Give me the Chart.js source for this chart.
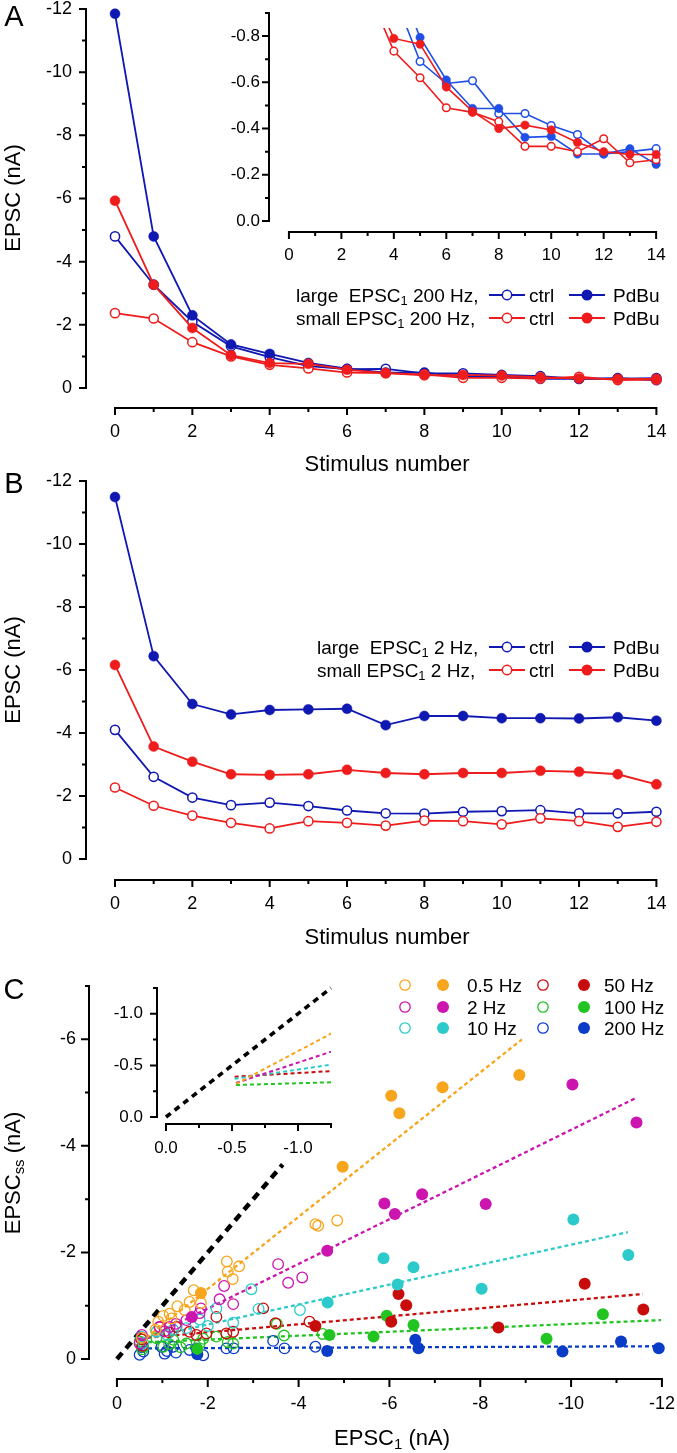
<!DOCTYPE html>
<html>
<head>
<meta charset="utf-8">
<script src="https://cdn.jsdelivr.net/npm/chart.js@4.4.1/dist/chart.umd.min.js"></script>
<style>
  body { margin: 0; background: #fff; font-family: "Liberation Sans", Arial, sans-serif; }
  #fig { position: relative; width: 677px; height: 1453px; overflow: hidden; background: #fff; }
  #fig canvas { position: absolute; left: 0; top: 0; }
  #fig svg { position: absolute; left: 0; top: 0; }
  .txt { position: absolute; white-space: pre; color: #000; line-height: 1; }
  .txt sub { font-size: 68%; vertical-align: -0.28em; line-height: 0; }
</style>
</head>
<body>
<div id="fig">
  <canvas id="chartA" width="677" height="1453"></canvas>
  <canvas id="chartAinset" width="677" height="1453"></canvas>
  <canvas id="chartB" width="677" height="1453"></canvas>
  <canvas id="chartC" width="677" height="1453"></canvas>
  <canvas id="chartCinset" width="677" height="1453"></canvas>
</div>
<script>
const stimulus = [0, 1, 2, 3, 4, 5, 6, 7, 8, 9, 10, 11, 12, 13, 14];

// panel A: 200 Hz trains (nA)
const aLargeCtrl = [-4.80, -3.27, -2.10, -1.32, -0.98, -0.69, -0.595, -0.607, -0.465, -0.465, -0.413, -0.374, -0.29, -0.30, -0.313];
const aLargePdbu = [-11.85, -4.80, -2.30, -1.38, -1.08, -0.794, -0.61, -0.487, -0.487, -0.362, -0.366, -0.29, -0.29, -0.313, -0.245];
const aSmallCtrl = [-2.37, -2.20, -1.45, -1.00, -0.735, -0.62, -0.49, -0.47, -0.43, -0.323, -0.323, -0.30, -0.356, -0.252, -0.265];
const aSmallPdbu = [-5.93, -3.27, -1.90, -1.04, -0.79, -0.765, -0.58, -0.474, -0.40, -0.415, -0.394, -0.34, -0.30, -0.288, -0.288];

// panel B: 2 Hz trains (nA)
const bLargeCtrl = [-4.10, -2.61, -1.95, -1.71, -1.79, -1.68, -1.54, -1.45, -1.44, -1.50, -1.52, -1.55, -1.45, -1.45, -1.50];
const bLargePdbu = [-11.49, -6.44, -4.92, -4.59, -4.73, -4.75, -4.77, -4.25, -4.54, -4.54, -4.47, -4.47, -4.46, -4.50, -4.39];
const bSmallCtrl = [-2.27, -1.69, -1.38, -1.15, -0.97, -1.20, -1.15, -1.06, -1.22, -1.20, -1.10, -1.29, -1.20, -1.02, -1.18];
const bSmallPdbu = [-6.16, -3.57, -3.09, -2.69, -2.67, -2.69, -2.83, -2.73, -2.69, -2.73, -2.73, -2.80, -2.77, -2.69, -2.37];

// panel C: [EPSC1, EPSCss] pairs (nA), open = ctrl, filled = PdBu
const c05Open = [[-4.37, -2.53], [-4.43, -2.50], [-4.85, -2.60], [-2.42, -1.83], [-2.69, -1.74], [-2.44, -1.64], [-2.55, -1.50], [-1.69, -1.29], [-1.60, -1.07], [-1.49, -0.92], [-1.33, -0.99], [-1.16, -0.85], [-1.20, -0.76], [-1.02, -0.81], [-0.91, -0.70], [-0.85, -0.55], [-1.85, -1.05], [-0.55, -0.40]];
const c05Filled = [[-1.85, -1.24], [-4.97, -3.61], [-6.04, -4.94], [-6.22, -4.61], [-7.17, -5.10], [-8.86, -5.33]];
const c2Open = [[-4.08, -1.53], [-3.55, -1.78], [-3.77, -1.43], [-2.36, -1.37], [-2.26, -1.12], [-2.56, -1.03], [-1.82, -0.86], [-1.85, -0.95], [-1.53, -0.73], [-1.30, -0.66], [-1.16, -0.60], [-1.05, -0.52], [-0.94, -0.60], [-0.55, -0.45], [-0.50, -0.29]];
const c2Filled = [[-1.65, -0.79], [-4.63, -2.03], [-5.89, -2.92], [-6.12, -2.72], [-6.72, -3.09], [-8.12, -2.91], [-10.03, -5.15], [-11.44, -4.44]];
const c10Open = [[-4.03, -0.92], [-2.96, -1.31], [-3.12, -0.94], [-2.56, -0.68], [-2.19, -0.95], [-2.00, -0.62], [-1.82, -0.74], [-1.53, -0.58], [-1.24, -0.55], [-1.10, -0.45], [-0.87, -0.51], [-0.58, -0.30], [-0.54, -0.42]];
const c10Filled = [[-4.64, -1.06], [-5.87, -1.89], [-6.18, -1.40], [-6.53, -1.72], [-8.03, -1.32], [-10.05, -2.62], [-11.26, -1.95]];
const c50Open = [[-3.22, -0.95], [-3.49, -0.67], [-4.24, -0.70], [-2.19, -0.79], [-2.56, -0.51], [-2.41, -0.48], [-1.97, -0.48], [-1.75, -0.45], [-1.60, -0.51], [-1.31, -0.60], [-1.15, -0.50], [-0.94, -0.60], [-0.56, -0.25], [-0.54, -0.37]];
const c50Filled = [[-4.37, -0.62], [-6.04, -0.70], [-6.20, -1.22], [-6.37, -1.01], [-8.40, -0.59], [-10.30, -1.41], [-11.59, -0.93]];
const c100Open = [[-3.52, -0.66], [-3.68, -0.44], [-4.53, -0.47], [-2.44, -0.32], [-2.56, -0.29], [-2.19, -0.42], [-1.90, -0.38], [-1.82, -0.29], [-1.53, -0.29], [-1.40, -0.22], [-1.24, -0.36], [-1.15, -0.28], [-1.02, -0.23], [-0.87, -0.39], [-0.58, -0.23], [-0.56, -0.18], [-0.50, -0.33]];
const c100Filled = [[-1.77, -0.19], [-4.68, -0.45], [-5.65, -0.42], [-5.94, -0.81], [-6.53, -0.64], [-9.46, -0.38], [-10.70, -0.84]];
const c200Open = [[-3.44, -0.34], [-3.69, -0.20], [-4.37, -0.23], [-2.41, -0.20], [-2.57, -0.20], [-1.90, -0.07], [-1.75, -0.20], [-1.60, -0.17], [-1.30, -0.12], [-1.24, -0.23], [-1.10, -0.15], [-1.05, -0.10], [-0.98, -0.23], [-0.58, -0.14], [-0.55, -0.22], [-0.50, -0.08]];
const c200Filled = [[-1.77, -0.09], [-4.63, -0.15], [-6.57, -0.36], [-6.64, -0.20], [-9.81, -0.14], [-11.10, -0.33], [-11.93, -0.20]];

// fitted lines (end points) and the unity line
const fit05 = [[-0.53, -0.32], [-8.92, -6.00]];
const fit2 = [[-0.53, -0.33], [-11.43, -4.90]];
const fit10 = [[-0.52, -0.37], [-11.25, -2.38]];
const fit50 = [[-0.52, -0.39], [-11.58, -1.22]];
const fit100 = [[-0.53, -0.31], [-11.98, -0.73]];
const fit200 = [[-0.53, -0.20], [-12.05, -0.24]];
const unityMain = [[0, 0], [-3.65, -3.65]];
const unityInset = [[0, 0], [-1.25, -1.25]];

const freqLabels = ['0.5 Hz', '2 Hz', '10 Hz', '50 Hz', '100 Hz', '200 Hz'];
const legendA = ['large  EPSC<sub>1</sub> 200 Hz,', 'small EPSC<sub>1</sub> 200 Hz,'];
const legendB = ['large  EPSC<sub>1</sub> 2 Hz,', 'small EPSC<sub>1</sub> 2 Hz,'];

const BLUE = '#1018b2';
const BLUE_INSET = '#1f4fe6';
const RED = '#ee1c1c';
const freqColors = ['#f7a51c', '#cc14ae', '#2ccaca', '#c80c0c', '#22c422', '#0a3cc8'];

Chart.defaults.font.family = '"Liberation Sans", Arial, sans-serif';
Chart.defaults.color = '#000';
Chart.defaults.animation = false;

const fig = document.getElementById('fig');

// chart area placed at fixed page pixels (y scale 60 px wide, x scale 60 px high)
function frame(L, T, R, B) {
    return { autoPadding: false, padding: { left: L - 60, top: T, right: 677 - R, bottom: 1453 - B - 60 } };
}

function scale(min, max, step, isY, pad, size, dec) {
    return {
        type: 'linear',
        min: min,
        max: max,
        grid: { display: false, drawTicks: false },
        border: { display: false },
        ticks: {
            stepSize: step,
            padding: pad,
            autoSkip: false,
            includeBounds: false,
            maxRotation: 0,
            font: { size: size },
            color: '#000',
            callback: v => Number(v).toFixed(dec)
        },
        afterFit: s => {
            if (isY) s.width = 60; else s.height = 60;
            s.paddingTop = s.paddingBottom = s.paddingLeft = s.paddingRight = 0;
        }
    };
}

// axis lines that stop at the data range, plus long/short tick marks
function axisDeco(d) {
    return {
        id: 'axisDeco',
        afterDraw(chart) {
            const { ctx, chartArea } = chart;
            const xs = chart.scales.x, ys = chart.scales.y;
            const isMajor = (v, m) => Math.abs(v / m - Math.round(v / m)) < 1e-6;
            ctx.save();
            ctx.strokeStyle = '#000';
            ctx.lineWidth = 2;
            ctx.beginPath();
            // y axis
            const left = chartArea.left;
            ctx.moveTo(left, ys.getPixelForValue(d.y[0]) - 1);
            ctx.lineTo(left, ys.getPixelForValue(d.y[1]) + 1);
            let n = Math.round(Math.abs(d.y[1] - d.y[0]) / d.y[3]);
            let dir = d.y[1] > d.y[0] ? 1 : -1;
            for (let i = 0; i <= n; i++) {
                const v = d.y[0] + dir * i * d.y[3];
                const p = ys.getPixelForValue(v);
                ctx.moveTo(left, p);
                ctx.lineTo(left - (isMajor(v, d.y[2]) ? d.len[0] : d.len[1]), p);
            }
            // x axis, detached below the plot
            const base = chartArea.bottom + d.gap;
            ctx.moveTo(xs.getPixelForValue(d.x[0]) - 1, base);
            ctx.lineTo(xs.getPixelForValue(d.x[1]) + 1, base);
            n = Math.round(Math.abs(d.x[1] - d.x[0]) / d.x[3]);
            dir = d.x[1] > d.x[0] ? 1 : -1;
            for (let i = 0; i <= n; i++) {
                const v = d.x[0] + dir * i * d.x[3];
                const p = xs.getPixelForValue(v);
                ctx.moveTo(p, base);
                ctx.lineTo(p, base + (isMajor(v, d.x[2]) ? d.len[0] : d.len[1]));
            }
            ctx.stroke();
            ctx.restore();
        }
    };
}

function trainSeries(values, color, open, r, lw, clip) {
    return {
        data: stimulus.map((s, i) => ({ x: s, y: values[i] })),
        showLine: true,
        borderColor: color,
        borderWidth: lw,
        pointRadius: open ? r - 0.4 : r,
        pointBorderWidth: open ? 1.5 : 0.5,
        pointBorderColor: color,
        pointBackgroundColor: open ? '#fff' : color,
        clip: clip
    };
}

function pairs(arr) {
    return arr.map(p => ({ x: p[0], y: p[1] }));
}

function baseOptions(fr, xs, ys) {
    return {
        responsive: false,
        maintainAspectRatio: false,
        devicePixelRatio: 1,
        events: [],
        layout: fr,
        scales: { x: xs, y: ys },
        plugins: { legend: { display: false }, tooltip: { enabled: false } }
    };
}

function xScale(min, max, step, reverse, pad, size, dec) {
    const s = scale(min, max, step, false, pad, size, dec);
    s.reverse = reverse;
    return s;
}
function yScale(min, max, step, pad, size, dec) {
    const s = scale(min, max, step, true, pad, size, dec);
    s.reverse = true;
    return s;
}

// ---- panel A ----
new Chart(document.getElementById('chartA'), {
    type: 'scatter',
    data: {
        datasets: [
            trainSeries(aSmallPdbu, RED, false, 5, 1.8, false),
            trainSeries(aSmallCtrl, RED, true, 5, 1.8, false),
            trainSeries(aLargePdbu, BLUE, false, 5, 1.8, false),
            trainSeries(aLargeCtrl, BLUE, true, 5, 1.8, false)
        ]
    },
    options: baseOptions(frame(86, 9, 668, 388),
        xScale(-0.75, 14.3, 2, false, 33, 18, 0),
        yScale(-12, 0, 2, 14, 18, 0)),
    plugins: [axisDeco({ y: [-12, 0, 2, 1], x: [0, 14, 2, 1], gap: 20, len: [7, 4] })]
});

// ---- panel A inset ----
const insetClip = { left: 20, top: -15, right: 20, bottom: 20 };
new Chart(document.getElementById('chartAinset'), {
    type: 'scatter',
    data: {
        datasets: [
            trainSeries(aSmallPdbu, RED, false, 4.2, 1.6, insetClip),
            trainSeries(aSmallCtrl, RED, true, 4.2, 1.6, insetClip),
            trainSeries(aLargePdbu, BLUE_INSET, false, 4.2, 1.6, insetClip),
            trainSeries(aLargeCtrl, BLUE_INSET, true, 4.2, 1.6, insetClip)
        ]
    },
    options: baseOptions(frame(269, 13, 664, 221),
        xScale(-0.76, 14.3, 2, false, 24, 17, 0),
        yScale(-0.9, 0, 0.2, 9, 17, 1)),
    plugins: [axisDeco({ y: [-0.9, 0, 0.2, 0.1], x: [0, 14, 2, 1], gap: 11, len: [7, 4] })]
});

// ---- panel B ----
new Chart(document.getElementById('chartB'), {
    type: 'scatter',
    data: {
        datasets: [
            trainSeries(bSmallPdbu, RED, false, 5, 1.8, false),
            trainSeries(bSmallCtrl, RED, true, 5, 1.8, false),
            trainSeries(bLargePdbu, BLUE, false, 5, 1.8, false),
            trainSeries(bLargeCtrl, BLUE, true, 5, 1.8, false)
        ]
    },
    options: baseOptions(frame(86, 481, 668, 859),
        xScale(-0.75, 14.3, 2, false, 34, 18, 0),
        yScale(-12, 0, 2, 14, 18, 0)),
    plugins: [axisDeco({ y: [-12, 0, 2, 1], x: [0, 14, 2, 1], gap: 21, len: [7, 4] })]
});

// ---- panel C ----
const freqOpen = [c05Open, c2Open, c10Open, c50Open, c100Open, c200Open];
const freqFilled = [c05Filled, c2Filled, c10Filled, c50Filled, c100Filled, c200Filled];
const freqFits = [fit05, fit2, fit10, fit50, fit100, fit200];

function fitLine(arr, color, lw, dash) {
    return {
        data: pairs(arr), showLine: true, pointRadius: 0, borderColor: color,
        borderWidth: lw, borderDash: dash, order: 2, clip: false
    };
}

const cDatasets = [];
freqLabels.forEach((lab, i) => {
    cDatasets.push({
        label: lab, data: pairs(freqFilled[i]), pointRadius: 6, pointBorderWidth: 0,
        pointBackgroundColor: freqColors[i], pointBorderColor: freqColors[i], order: 0, clip: false
    });
    cDatasets.push({
        label: lab + ' ctrl', data: pairs(freqOpen[i]), pointRadius: 5.3, pointBorderWidth: 1.3,
        pointBackgroundColor: 'rgba(0,0,0,0)', pointBorderColor: freqColors[i], order: 1, clip: false
    });
    cDatasets.push(fitLine(freqFits[i], freqColors[i], 2.3, [4, 3]));
});
cDatasets.push(fitLine(unityMain, '#000', 4.5, [8, 6]));

new Chart(document.getElementById('chartC'), {
    type: 'scatter',
    data: { datasets: cDatasets },
    options: baseOptions(frame(89, 986, 671, 1359),
        xScale(-12.2, 0.615, 2, true, 34, 18, 0),
        yScale(-7, 0, 2, 13, 18, 0)),
    plugins: [axisDeco({ y: [-7, 0, 2, 1], x: [0, -12, 2, 1], gap: 20, len: [8, 4] })]
});

// ---- panel C inset (fits near the origin) ----
const insetDatasets = freqFits.slice(0, 5).map((f, i) => {
    const d = fitLine(f, freqColors[i], 2, [4, 3]);
    d.clip = 0;
    return d;
});
insetDatasets.push(fitLine(unityInset, '#000', 3.6, [6, 5]));

new Chart(document.getElementById('chartCinset'), {
    type: 'scatter',
    data: { datasets: insetDatasets },
    options: baseOptions(frame(157, 988, 331, 1117),
        xScale(-1.25, 0.068, 0.5, true, 21, 17, 1),
        yScale(-1.25, 0, 0.5, 14, 17, 1)),
    plugins: [axisDeco({ y: [-1.25, 0, 0.5, 0.25], x: [0, -1.25, 0.5, 0.25], gap: 7, len: [7, 4] })]
});

// ---- text and legends ----
function addText(html, x, y, size, center, rotate) {
    const el = document.createElement('div');
    el.className = 'txt';
    el.innerHTML = html;
    el.style.left = x + 'px';
    el.style.top = y + 'px';
    el.style.fontSize = size + 'px';
    let tf = center ? 'translate(-50%,-50%)' : 'translate(0,-50%)';
    if (rotate) tf += ' rotate(-90deg)';
    el.style.transform = tf;
    fig.appendChild(el);
}

const svgNS = 'http://www.w3.org/2000/svg';
const svg = document.createElementNS(svgNS, 'svg');
svg.setAttribute('width', 677);
svg.setAttribute('height', 1453);
fig.appendChild(svg);
function svgEl(tag, attrs) {
    const el = document.createElementNS(svgNS, tag);
    for (const k in attrs) el.setAttribute(k, attrs[k]);
    svg.appendChild(el);
}

addText('A', 14, 16, 29, true);
addText('B', 14, 483, 29, true);
addText('C', 14, 989, 29, true);

addText('EPSC (nA)', 13, 198, 22, true, true);
addText('EPSC (nA)', 13, 670, 22, true, true);
addText('EPSC<sub>ss</sub> (nA)', 13, 1173, 22, true, true);
addText('Stimulus number', 387, 464, 22, true);
addText('Stimulus number', 387, 937, 22, true);
addText('EPSC<sub>1</sub> (nA)', 392, 1438, 22, true);

function trainLegend(rows, left, ys) {
    rows.forEach((txt, i) => {
        const y = ys[i];
        const color = i === 0 ? BLUE : RED;
        addText(txt, left, y, 19, false);
        svgEl('line', { x1: 489, y1: y, x2: 525, y2: y, stroke: color, 'stroke-width': 1.8 });
        svgEl('circle', { cx: 507, cy: y, r: 4.7, fill: '#fff', stroke: color, 'stroke-width': 1.5 });
        addText('ctrl', 529, y, 19, false);
        svgEl('line', { x1: 569, y1: y, x2: 605, y2: y, stroke: color, 'stroke-width': 1.8 });
        svgEl('circle', { cx: 587, cy: y, r: 5.5, fill: color });
        addText('PdBu', 613, y, 19, false);
    });
}
trainLegend(legendA, 296, [295, 318]);
trainLegend(legendB, 317, [647, 670]);

freqLabels.forEach((lab, i) => {
    const col = i < 3 ? 0 : 1;
    const y = [985, 1007, 1028][i % 3];
    svgEl('circle', { cx: col ? 543 : 405, cy: y, r: 5.2, fill: 'none', stroke: freqColors[i], 'stroke-width': 1.3 });
    svgEl('circle', { cx: col ? 584 : 443, cy: y, r: 6, fill: freqColors[i] });
    addText(lab, col ? 604 : 467, y, 19, false);
});
</script>
</body>
</html>
